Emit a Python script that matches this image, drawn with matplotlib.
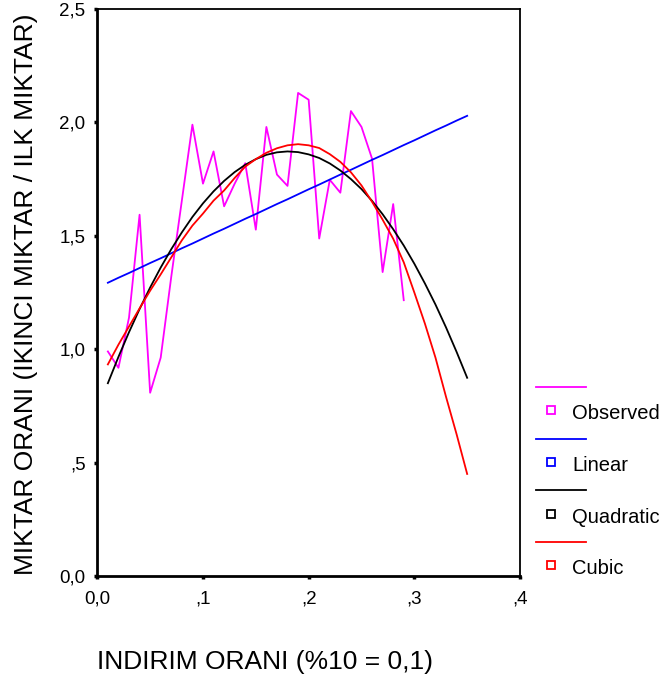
import matplotlib
matplotlib.use("Agg")
import matplotlib.pyplot as plt
from matplotlib.lines import Line2D

plt.rcParams['font.family'] = ['Liberation Sans', 'DejaVu Sans']

# Observed data
obs_x = [0.01, 0.02, 0.03, 0.04, 0.05, 0.06, 0.07, 0.09, 0.10, 0.11, 0.12, 0.13, 0.14,
         0.15, 0.16, 0.17, 0.18, 0.19, 0.20, 0.21, 0.22, 0.23, 0.24, 0.25, 0.26, 0.27,
         0.28, 0.29]
obs_y = [0.99, 0.918, 1.139, 1.593, 0.808, 0.963, 1.32, 1.99, 1.73, 1.872, 1.63, 1.73, 1.82,
         1.527, 1.98, 1.77, 1.72, 2.13, 2.10, 1.488, 1.747, 1.69, 2.05, 1.98, 1.84, 1.34,
         1.64, 1.216]

# Fitted curves, read at x = 0.01 ... 0.35
fit_x = [0.01, 0.02, 0.03, 0.04, 0.05, 0.06, 0.07, 0.08, 0.09, 0.10, 0.11, 0.12, 0.13,
         0.14, 0.15, 0.16, 0.17, 0.18, 0.19, 0.20, 0.21, 0.22, 0.23, 0.24, 0.25, 0.26,
         0.27, 0.28, 0.29, 0.30, 0.31, 0.32, 0.33, 0.34, 0.35]
linear_y = [1.293, 1.315, 1.336, 1.358, 1.380, 1.401, 1.423, 1.445, 1.466, 1.488, 1.510,
            1.531, 1.553, 1.575, 1.596, 1.618, 1.640, 1.661, 1.683, 1.705, 1.726, 1.748,
            1.770, 1.791, 1.813, 1.835, 1.856, 1.878, 1.900, 1.921, 1.943, 1.965, 1.986,
            2.008, 2.029]
quad_y = [0.850, 0.966, 1.075, 1.177, 1.272, 1.360, 1.441, 1.515, 1.583, 1.643, 1.696,
          1.742, 1.781, 1.813, 1.838, 1.857, 1.868, 1.872, 1.869, 1.859, 1.843, 1.819,
          1.788, 1.750, 1.706, 1.654, 1.595, 1.529, 1.457, 1.377, 1.290, 1.197, 1.096,
          0.988, 0.874]
cubic_y = [0.933, 1.020, 1.100, 1.180, 1.258, 1.330, 1.405, 1.480, 1.545, 1.598, 1.655,
           1.700, 1.755, 1.805, 1.838, 1.866, 1.886, 1.899, 1.904, 1.899, 1.887, 1.860,
           1.826, 1.780, 1.722, 1.650, 1.571, 1.487, 1.383, 1.250, 1.113, 0.963, 0.790,
           0.625, 0.450]

x_ticks = [0.0, 0.1, 0.2, 0.3, 0.4]
x_ticklabels = ['0,0', ',1', ',2', ',3', ',4']
y_ticks = [0.0, 0.5, 1.0, 1.5, 2.0, 2.5]
y_ticklabels = ['0,0', ',5', '1,0', '1,5', '2,0', '2,5']

series_names = ['Observed', 'Linear', 'Quadratic', 'Cubic']
series_colors = ['#FF00FF', '#0000FF', '#000000', '#FF0000']

W, H = 666, 684
fig = plt.figure(figsize=(W / 100, H / 100), dpi=100)
ax = fig.add_axes([97.3 / W, 1 - 576 / H, (520 - 97.3) / W, (576 - 9) / H])

lw = 1.3
ax.plot(obs_x, obs_y, color=series_colors[0], lw=lw)
ax.plot(fit_x, linear_y, color=series_colors[1], lw=lw)
ax.plot(fit_x, quad_y, color=series_colors[2], lw=lw)
ax.plot(fit_x, cubic_y, color=series_colors[3], lw=lw)

ax.set_xlim(0, 0.4)
ax.set_ylim(0, 2.5)
ax.set_xticks(x_ticks)
ax.set_xticklabels(x_ticklabels)
ax.set_yticks(y_ticks)
ax.set_yticklabels(y_ticklabels)
ax.tick_params(direction='out', length=2.5, width=2.5, labelsize=13.5, pad=6)
ax.tick_params(axis='x', pad=8)
for s in ax.spines.values():
    s.set_linewidth(1.3)
ax.spines['left'].set_linewidth(2.0)
ax.spines['bottom'].set_linewidth(2.0)

fig.text(26 / W, 1 - 294 / H, 'MIKTAR ORANI (IKINCI MIKTAR / ILK MIKTAR)',
         rotation=90, ha='center', va='center', fontsize=19)
fig.text(97 / W, 1 - 662 / H, 'INDIRIM ORANI (%10 = 0,1)',
         ha='left', va='center', fontsize=19)

# Legend drawn manually in figure pixels
line_ys = [386.7, 438.5, 490.2, 541.9]
for name, col, ly in zip(series_names, series_colors, line_ys):
    fy = 1 - ly / H
    fig.add_artist(Line2D([536 / W, 586 / W], [fy, fy], color=col, lw=lw,
                          transform=fig.transFigure))
    my = 1 - (ly + 23.5) / H
    fig.add_artist(Line2D([551 / W], [my], marker='s', markersize=6,
                          markerfacecolor='white', markeredgecolor=col,
                          markeredgewidth=1.3, transform=fig.transFigure))
    fig.text(572 / W, 1 - (ly + 27) / H, name, ha='left', va='center', fontsize=14.5)

fig.savefig('out.png', dpi=100)
